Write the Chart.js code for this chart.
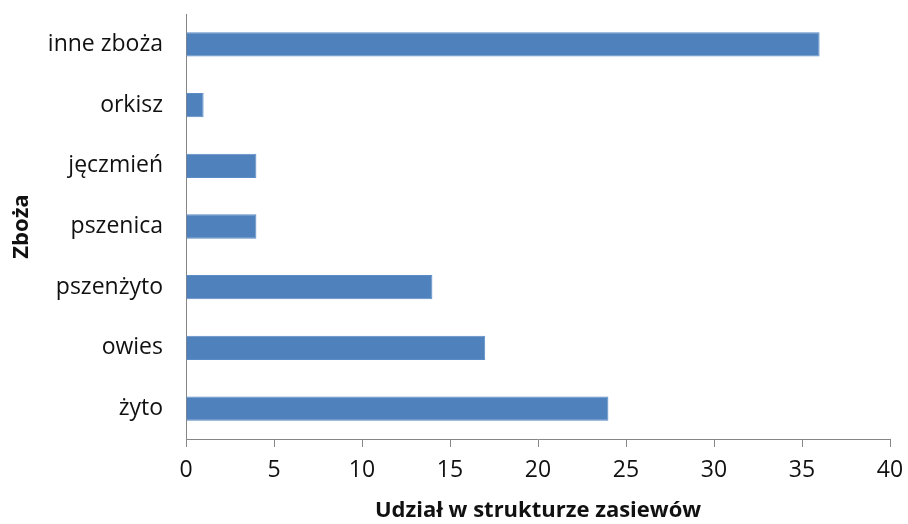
<!DOCTYPE html>
<html>
<head>
<meta charset="utf-8">
<script src="https://cdn.jsdelivr.net/npm/chart.js@4/dist/chart.umd.min.js"></script>
<style>
  html, body { margin: 0; padding: 0; background: #fff; }
  #wrap { width: 908px; height: 524px; }
</style>
</head>
<body>
<div id="wrap"><canvas id="grafico" width="908" height="524"></canvas></div>
<script>
// dane
let zboza = ["inne zboża", "orkisz", "jęczmień", "pszenica", "pszenżyto", "owies", "żyto"];
let udzial = [36, 1, 4, 4, 14, 17, 24];
let osX = [0, 5, 10, 15, 20, 25, 30, 35, 40];

let czcionka = "'Open Sans', sans-serif";

let dados = {
    labels: zboza,
    datasets: [{
        label: 'Udział',
        data: udzial,
        backgroundColor: '#4F81BD',
        borderColor: '#5B8CC6',
        borderWidth: 1,
        barPercentage: 0.4,
        categoryPercentage: 1
    }]
};

let options = {
    indexAxis: 'y',
    responsive: false,
    animation: false,
    layout: { padding: { top: 14, right: 18, left: 0, bottom: 0 } },
    plugins: { legend: { display: false }, tooltip: { enabled: false } },
    scales: {
        x: {
            min: 0,
            max: 40,
            afterBuildTicks: function(scale) {
                scale.ticks = osX.map(v => ({ value: v }));
            },
            afterFit: function(scale) {
                scale.height = 85;
                scale.paddingLeft = 0;
                scale.paddingRight = 0;
            },
            grid: { drawOnChartArea: false, drawTicks: true, tickLength: 8, color: '#868686' },
            border: { display: true, color: '#868686' },
            ticks: { color: '#111', padding: 10, font: { family: czcionka, size: 23 } },
            title: {
                display: true,
                text: 'Udział w strukturze zasiewów',
                color: '#111',
                padding: 0,
                font: { family: czcionka, size: 22, weight: 'bold' }
            }
        },
        y: {
            afterFit: function(scale) {
                scale.width = 186;
                scale.paddingTop = 0;
                scale.paddingBottom = 0;
            },
            grid: { drawOnChartArea: false, drawTicks: false },
            border: { display: true, color: '#868686' },
            ticks: { color: '#111', padding: 23, font: { family: czcionka, size: 23 } },
            title: {
                display: true,
                text: 'Zboża',
                color: '#111',
                padding: { top: 9, bottom: 0 },
                font: { family: czcionka, size: 22, weight: 'bold' }
            }
        }
    }
};

let ctx = document.getElementById('grafico').getContext('2d');
var graficoChart = new Chart(ctx, {
    type: 'bar',
    data: dados,
    options: options
});
</script>
</body>
</html>
